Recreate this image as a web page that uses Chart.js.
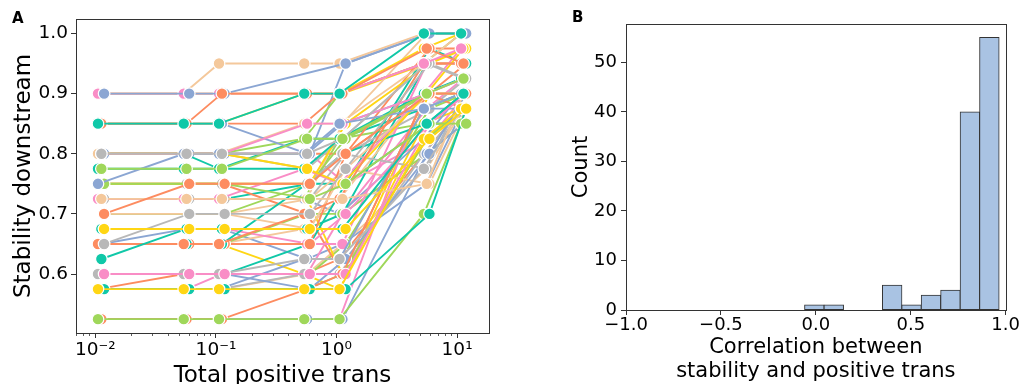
<!DOCTYPE html>
<html>
<head>
<meta charset="utf-8">
<script src="https://cdn.jsdelivr.net/npm/chart.js@4.4.1/dist/chart.umd.min.js"></script>
<style>
  body { margin: 0; background: #fff; }
  #wrap { position: relative; width: 1020px; height: 384px; overflow: hidden; font-family: 'DejaVu Sans', sans-serif; }
  canvas { position: absolute; top: 0; }
  #chartA { left: 0; }
  #chartB { left: 540px; }
  .panel { position: absolute; font-weight: bold; font-size: 15px; line-height: 1; color: #000; }
</style>
</head>
<body>
<div id="wrap">
  <canvas id="chartA" width="510" height="384"></canvas>
  <canvas id="chartB" width="480" height="384"></canvas>
  <div class="panel" style="left:12px;top:11px">A</div>
  <div class="panel" style="left:572px;top:10px">B</div>
</div>
<script>
// ---- panel A data ----
// total positive trans at each step (three slightly shifted sets, like the original)
const transA = [0.0105, 0.054, 0.106, 0.54, 1.06, 5.3, 10.8];
const transB = [0.0112, 0.057, 0.112, 0.57, 1.12, 5.6, 11.3];
const transC = [0.0118, 0.060, 0.118, 0.60, 1.19, 5.9, 11.9];

// stability downstream, one row per line, grouped by colour
const tealLines = [
  [0.85, 0.85, 0.85, 0.9, 0.9, 1.0, 1.0],
  [0.625, 0.675, 0.675, 0.675, 0.675, 0.85, 0.9],
  [0.575, 0.575, 0.575, 0.575, 0.575, 0.7, 0.875],
  [0.775, 0.775, 0.775, 0.775, 0.825, 0.9, 0.925],
  [0.65, 0.65, 0.65, 0.75, 0.8, 0.85, 0.9],
  [0.6, 0.6, 0.6, 0.65, 0.75, 0.975, 0.95],
  [0.8, 0.8, 0.775, 0.825, 0.825, 0.875, 0.9],
  [0.675, 0.675, 0.675, 0.675, 0.7, 0.95, 0.975],
  [0.725, 0.725, 0.725, 0.75, 0.75, 0.85, 0.85]
];
const orangeLines = [
  [0.85, 0.85, 0.9, 0.9, 0.9, 0.975, 0.95],
  [0.7, 0.75, 0.75, 0.75, 0.8, 0.9, 0.9],
  [0.65, 0.65, 0.65, 0.7, 0.725, 0.95, 0.95],
  [0.525, 0.525, 0.525, 0.575, 0.6, 0.9, 0.875],
  [0.65, 0.65, 0.65, 0.65, 0.8, 0.975, 0.975],
  [0.85, 0.85, 0.85, 0.85, 0.9, 0.95, 0.95],
  [0.75, 0.75, 0.75, 0.7, 0.6, 0.9, 0.9],
  [0.8, 0.8, 0.8, 0.8, 0.8, 0.9, 0.95],
  [0.575, 0.6, 0.6, 0.6, 0.625, 0.8, 0.875]
];
const blueLines = [
  [0.9, 0.9, 0.9, null, 0.95, 1.0, 1.0],
  [0.75, 0.8, 0.8, 0.8, 0.85, 0.875, 0.9],
  [0.85, 0.85, 0.85, 0.8, 0.85, 0.9, 0.925],
  [0.6, 0.6, 0.6, 0.575, 0.625, 0.8, 0.9],
  [0.575, 0.575, 0.575, 0.625, 0.625, 0.875, 0.875],
  [0.525, 0.525, 0.525, 0.525, 0.525, 0.8, 0.85],
  [0.8, 0.8, 0.8, 0.8, 0.95, 1.0, 1.0],
  [0.725, 0.725, 0.725, 0.725, 0.7, 0.825, 0.9],
  [0.65, 0.675, 0.675, 0.625, 0.65, 0.75, 0.875]
];
const pinkLines = [
  [0.9, 0.9, 0.9, 0.9, 0.9, 0.95, 0.975],
  [0.8, 0.8, 0.8, 0.85, 0.85, 0.9, 0.925],
  [0.6, 0.6, 0.6, 0.6, 0.6, 0.85, 0.9],
  [0.725, 0.725, 0.725, 0.775, 0.75, 0.9, 0.975],
  [0.65, 0.65, 0.65, 0.65, 0.65, 0.95, 0.975],
  [0.675, 0.675, 0.675, 0.65, 0.7, 0.85, 0.9],
  [0.525, 0.525, 0.525, 0.525, 0.525, 0.9, 0.9],
  [0.575, 0.575, 0.6, 0.6, 0.7, 0.875, 0.925],
  [0.8, 0.8, 0.8, 0.8, 0.75, 0.825, 0.9]
];
const greenLines = [
  [0.775, 0.775, 0.775, 0.825, 0.825, 0.9, 0.925],
  [0.75, 0.75, 0.75, 0.725, 0.75, 0.85, 0.85],
  [0.525, 0.525, 0.525, 0.525, 0.525, 0.7, 0.85],
  [0.575, 0.575, 0.575, 0.575, 0.6, 0.825, 0.875],
  [0.7, 0.7, 0.7, 0.75, 0.825, 0.9, 0.9],
  [0.8, 0.8, 0.8, 0.825, 0.9, 0.95, 1.0],
  [0.65, 0.65, 0.65, 0.7, 0.7, 0.8, 0.85],
  [0.6, 0.6, 0.6, 0.6, 0.65, 0.875, 0.9],
  [0.725, 0.725, 0.725, 0.725, 0.825, 0.85, 0.85]
];
const yellowLines = [
  [0.675, 0.675, 0.675, 0.675, 0.675, 0.825, 0.875],
  [0.575, 0.575, 0.575, 0.575, 0.575, 0.825, 0.875],
  [0.8, 0.8, 0.8, 0.775, 0.75, 0.9, 0.975],
  [0.75, 0.75, 0.75, 0.75, 0.85, 0.95, 0.975],
  [0.85, 0.85, 0.85, 0.9, 0.9, 0.975, 1.0],
  [0.725, 0.725, 0.725, 0.725, 0.6, 0.825, 0.875],
  [0.6, 0.6, 0.6, 0.6, 0.6, 0.9, 0.9],
  [0.65, 0.65, 0.65, 0.6, 0.575, 0.85, 0.875],
  [0.9, 0.9, 0.9, 0.9, 0.9, 0.95, 0.975]
];
const tanLines = [
  [0.9, 0.9, 0.95, 0.95, 0.95, 1.0, 1.0],
  [0.725, 0.725, 0.725, 0.725, 0.725, 0.75, 0.9],
  [0.7, 0.7, 0.7, 0.675, 0.775, 0.9, 0.9],
  [0.8, 0.8, 0.8, 0.85, 0.85, 0.95, 1.0],
  [0.725, 0.725, 0.725, 0.725, 0.85, 1.0, 1.0],
  [0.7, 0.7, 0.7, 0.725, 0.775, 0.75, 0.875],
  [0.65, 0.65, 0.65, 0.675, 0.725, 0.9, 0.9],
  [0.575, 0.575, 0.575, 0.6, 0.65, 0.775, 0.875]
];
const grayLines = [
  [0.8, 0.8, 0.8, 0.8, 0.825, 0.95, 0.925],
  [0.65, 0.7, 0.7, 0.7, 0.775, 0.95, 0.925],
  [0.6, 0.6, 0.6, 0.625, 0.625, 0.775, 0.875],
  [0.75, 0.75, 0.75, 0.75, 0.8, 0.775, 0.9],
  [0.725, 0.725, 0.725, 0.725, 0.8, 0.875, 0.925],
  [0.575, 0.575, 0.575, 0.6, 0.6, 0.8, 0.875],
  [0.8, 0.8, 0.8, 0.775, 0.825, 0.95, 0.95]
];

const yTicksA = [0.6, 0.7, 0.8, 0.9, 1.0];
const xTicksA = [0.01, 0.1, 1, 10];
const xTickLabelsA = ['10\u207B\u00B2', '10\u207B\u00B9', '10\u2070', '10\u00B9'];
const xMinorA = [0.007, 0.008, 0.009, 0.02, 0.03, 0.04, 0.05, 0.06, 0.07, 0.08, 0.09,
  0.2, 0.3, 0.4, 0.5, 0.6, 0.7, 0.8, 0.9, 2, 3, 4, 5, 6, 7, 8, 9];

// ---- panel B data ----
const binEdges = [-0.059, 0.043, 0.146, 0.248, 0.351, 0.453, 0.555, 0.658, 0.760, 0.863, 0.965];
const binCounts = [1, 1, 0, 0, 5, 1, 3, 4, 40, 55];
const xTicksB = [-1, -0.5, 0, 0.5, 1];
const yTicksB = [0, 10, 20, 30, 40, 50];

// ---- styles ----
const lineColors = ['#10c8a8', '#fd8c60', '#8ba6d3', '#f98dc6', '#9fd75a', '#ffd614', '#f4c89b', '#b8b8b8'];
const lineGroups = [tealLines, orangeLines, blueLines, pinkLines, greenLines, yellowLines, tanLines, grayLines];
const transSets = [transA, transB, transC];

Chart.defaults.font.family = "'DejaVu Sans', sans-serif";
Chart.defaults.color = '#000';

// spines on all four sides
const framePlugin = {
  id: 'frame',
  afterDraw(chart) {
    const a = chart.chartArea;
    const ctx = chart.ctx;
    ctx.save();
    ctx.strokeStyle = '#333';
    ctx.lineWidth = 1;
    ctx.strokeRect(Math.round(a.left) + 0.5, Math.round(a.top) + 0.5,
      Math.round(a.right - a.left), Math.round(a.bottom - a.top));
    ctx.restore();
  }
};

function makeLines() {
  const datasets = [];
  const longest = Math.max(...lineGroups.map(g => g.length));
  // interleave the colours so no single colour sits on top
  for (let k = 0; k < longest; k++) {
    lineGroups.forEach((group, g) => {
      const ys = group[k];
      if (!ys) return;
      const xs = transSets[(k + g) % 3];
      datasets.push({
        data: ys.map((y, j) => ({ x: xs[j], y: y })),
        borderColor: lineColors[g],
        backgroundColor: lineColors[g],
        pointBackgroundColor: lineColors[g],
        pointBorderColor: '#fff',
        pointBorderWidth: 1.2,
        pointRadius: 5.8,
        borderWidth: 1.9,
        spanGaps: true
      });
    });
  }
  return datasets;
}

function makeChartA() {
  return new Chart(document.getElementById('chartA'), {
    type: 'line',
    data: { datasets: makeLines() },
    options: {
      responsive: false,
      animation: false,
      events: [],
      layout: { padding: { top: 19, right: 21, left: 0, bottom: 0 } },
      plugins: { legend: { display: false }, tooltip: { enabled: false } },
      scales: {
        x: {
          type: 'logarithmic',
          position: 'bottom',
          weight: 1,
          min: 0.0069,
          max: 18.4,
          afterBuildTicks: s => { s.ticks = xTicksA.map(v => ({ value: v })); },
          afterFit: s => { s.height = 51; },
          ticks: {
            callback: (v, i) => xTickLabelsA[i],
            autoSkip: false,
            maxRotation: 0,
            padding: 1,
            color: '#000',
            font: { size: 18.5 }
          },
          grid: { drawOnChartArea: false, tickLength: 5, tickColor: '#333' },
          border: { display: false },
          title: {
            display: true,
            text: 'Total positive trans',
            color: '#000',
            font: { size: 23 },
            padding: { top: 0, bottom: -6 }
          }
        },
        xMinor: {
          type: 'logarithmic',
          position: 'bottom',
          weight: 0,
          min: 0.0069,
          max: 18.4,
          afterBuildTicks: s => { s.ticks = xMinorA.map(v => ({ value: v })); },
          afterFit: s => { s.height = 0; },
          ticks: { display: false },
          grid: { drawOnChartArea: false, tickLength: 3, tickColor: '#333', tickWidth: 0.8 },
          border: { display: false }
        },
        y: {
          min: 0.502,
          max: 1.024,
          afterBuildTicks: s => { s.ticks = yTicksA.map(v => ({ value: v })); },
          afterFit: s => { s.width = 76; },
          ticks: {
            callback: v => v.toFixed(1),
            padding: 3,
            color: '#000',
            font: { size: 18.5 }
          },
          grid: { drawOnChartArea: false, tickLength: 5, tickColor: '#333' },
          border: { display: false },
          title: {
            display: true,
            text: 'Stability downstream',
            color: '#000',
            font: { size: 23 },
            padding: { top: 10, bottom: 0 }
          }
        }
      }
    },
    plugins: [framePlugin]
  });
}

function makeChartB() {
  const centers = binCounts.map((c, i) => (binEdges[i] + binEdges[i + 1]) / 2);
  return new Chart(document.getElementById('chartB'), {
    type: 'bar',
    data: {
      datasets: [{
        data: centers.map((c, i) => ({ x: c, y: binCounts[i] })),
        backgroundColor: '#a9c3e3',
        borderColor: '#333',
        borderWidth: 1,
        borderSkipped: false,
        inflateAmount: 0.5,
        categoryPercentage: 1,
        barPercentage: 1
      }]
    },
    options: {
      responsive: false,
      animation: false,
      events: [],
      layout: { padding: { top: 24, right: 12, left: 0, bottom: 0 } },
      plugins: { legend: { display: false }, tooltip: { enabled: false } },
      scales: {
        x: {
          type: 'linear',
          offset: false,
          min: -1,
          max: 1,
          afterBuildTicks: s => { s.ticks = xTicksB.map(v => ({ value: v })); },
          afterFit: s => { s.height = 74; },
          ticks: {
            callback: v => (v < 0 ? '\u2212' : '') + Math.abs(v).toFixed(1),
            autoSkip: false,
            maxRotation: 0,
            padding: 0,
            color: '#000',
            font: { size: 18 }
          },
          grid: { drawOnChartArea: false, offset: false, tickLength: 5, tickColor: '#333' },
          border: { display: false },
          title: {
            display: true,
            text: ['Correlation between', 'stability and positive trans'],
            color: '#000',
            font: { size: 21, lineHeight: 1.12 },
            padding: { top: 0, bottom: 1 }
          }
        },
        y: {
          min: 0,
          max: 57.75,
          afterBuildTicks: s => { s.ticks = yTicksB.map(v => ({ value: v })); },
          afterFit: s => { s.width = 86; },
          ticks: { padding: 4, color: '#000', font: { size: 18 } },
          grid: { drawOnChartArea: false, tickLength: 5, tickColor: '#333' },
          border: { display: false },
          title: {
            display: true,
            text: 'Count',
            color: '#000',
            font: { size: 21 },
            padding: { top: 29, bottom: 0 }
          }
        }
      }
    },
    plugins: [framePlugin]
  });
}

makeChartA();
makeChartB();
</script>
</body>
</html>
